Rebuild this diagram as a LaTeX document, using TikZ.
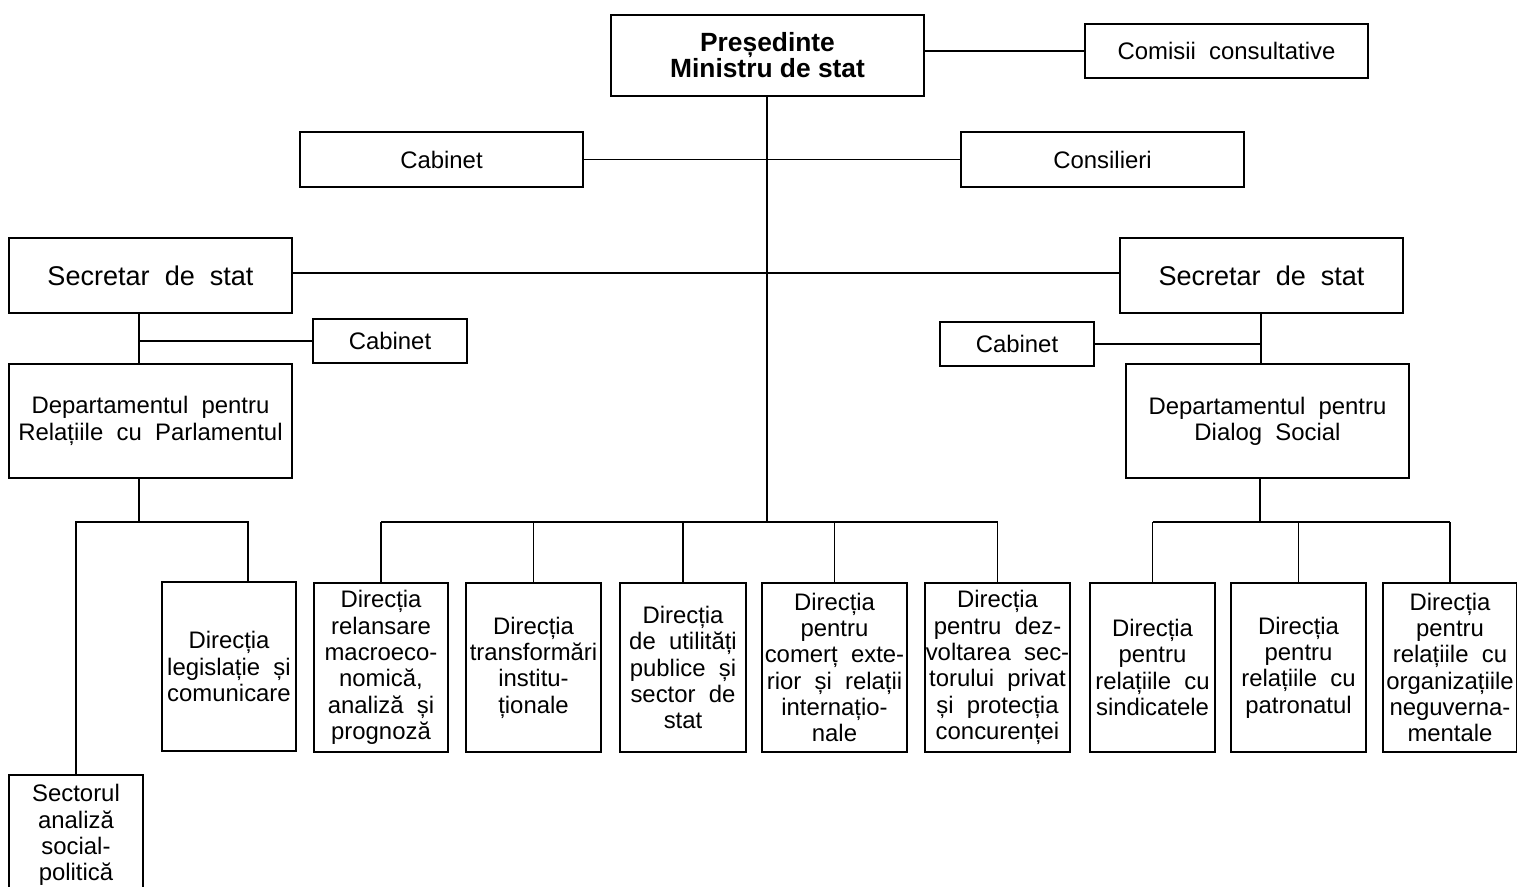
\documentclass[tikz,border=0pt]{standalone}
\usepackage{fontspec}
\setmainfont{Liberation Sans}
\usetikzlibrary{shapes,arrows}

\tikzset{
  box/.style={draw, line width=1pt, inner sep=0pt, align=center,
    font=\fontsize{13.6}{15}\selectfont},
  wide/.style={box, minimum width=5.66cm},
  dir/.style={box, minimum height=3.38cm},
  link/.style={line width=0.8pt}
}

\begin{document}
\begin{tikzpicture}[x=0.02cm,y=-0.02cm]
\useasboundingbox (0,0) rectangle (1517,886);
% top
\node[wide, minimum width=6.26cm, minimum height=1.62cm, font=\fontsize{15}{14.8}\selectfont\bfseries] (pres) at (767.5,55.5) {Președinte\\Ministru de stat};
\node[wide, minimum height=1.08cm] (comisii) at (1226.5,51) {Comisii\ \ consultative};
\node[wide, minimum height=1.1cm] (cabC) at (441.5,159.5) {Cabinet};
\node[wide, minimum height=1.1cm] (consil) at (1102.5,159.5) {Consilieri};
\node[wide, minimum height=1.5cm, font=\fontsize{15.4}{17}\selectfont] (secL) at (150.5,275.5) {Secretar\ \ de\ \ stat};
\node[wide, minimum height=1.5cm, font=\fontsize{15.4}{17}\selectfont] (secR) at (1261.5,275.5) {Secretar\ \ de\ \ stat};
\node[box, minimum width=3.08cm, minimum height=0.88cm] (cabL) at (390,341) {Cabinet};
\node[box, minimum width=3.08cm, minimum height=0.88cm] (cabR) at (1017,344) {Cabinet};
\node[wide, minimum height=2.28cm] (deptL) at (150.5,421) {Departamentul\ \ pentru\\Relațiile\ \ cu\ \ Parlamentul};
\node[wide, minimum height=2.28cm] (deptR) at (1267.5,421) {Departamentul\ \ pentru\\Dialog\ \ Social};
% left branch
\node[dir, minimum width=2.68cm] (legis) at (229,666.5) {Direcția\\legislație\ \ și\\comunicare};
\node[box, minimum width=2.68cm, minimum height=2.4cm] (sector) at (76,835) {Sectorul\\analiză\\social-\\politică};
% centre directions
\node[dir, minimum width=2.68cm] (d1) at (381,667.5) {Direcția\\relansare\\macroeco-\\nomică,\\analiză\ \ și\\prognoză};
\node[dir, minimum width=2.7cm] (d2) at (533.5,667.5) {Direcția\\transformări\\institu-\\ționale};
\node[dir, minimum width=2.52cm] (d3) at (683,667.5) {Direcția\\de\ \ utilități\\publice\ \ și\\sector\ \ de\\stat};
\node[dir, minimum width=2.9cm] (d4) at (834.5,667.5) {Direcția\\pentru\\comerț\ \ exte-\\rior\ \ și\ \ relații\\internațio-\\nale};
\node[dir, minimum width=2.9cm] (d5) at (997.5,667.5) {Direcția\\pentru\ \ dez-\\voltarea\ \ sec-\\torului\ \ privat\\și\ \ protecția\\concurenței};
% right branch
\node[dir, minimum width=2.5cm] (r1) at (1152.5,667.5) {Direcția\\pentru\\relațiile\ \ cu\\sindicatele};
\node[dir, minimum width=2.7cm] (r2) at (1298.5,667.5) {Direcția\\pentru\\relațiile\ \ cu\\patronatul};
\node[dir, minimum width=2.68cm] (r3) at (1450,667.5) {Direcția\\pentru\\relațiile\ \ cu\\organizațiile\\neguverna-\\mentale};

% junctions
\coordinate (jc) at (767,522);
\coordinate (jL) at (139,341);
\coordinate (jLb) at (139,522);
\coordinate (jLe) at (248,522);
\coordinate (jR) at (1261,343);
\coordinate (jRb) at (1260,522);

% connectors
\draw[link] (comisii.west) -- (comisii.west -| pres.east);
\draw[link] (pres.south -| jc) -- (jc);
\draw[link] (cabC.east) -- (consil.west);
\draw[link] (secL.east |- 0,273) -- (secR.west |- 0,273);
\draw[link] (secL.south -| jL) -- (deptL.north -| jL);
\draw[link] (jL) -- (cabL.west |- jL);
\draw[link] (deptL.south -| jLb) -- (jLb);
\draw[link] (sector.north) -- (jLb -| sector.north) -- (jLe) -- (jLe |- legis.north);
\draw[link] (jc -| d1) -- (jc -| d5);
\foreach \n in {d1,d2,d3,d4,d5}
  \draw[link] (jc -| \n) -- (\n.north);
\draw[link] (secR.south -| jR) -- (deptR.north -| jR);
\draw[link] (cabR.east) -- (cabR.east -| jR);
\draw[link] (deptR.south -| jRb) -- (jRb);
\draw[link] (jc -| r1) -- (jc -| r3);
\foreach \n in {r1,r2,r3}
  \draw[link] (jc -| \n) -- (\n.north);
\end{tikzpicture}
\end{document}
